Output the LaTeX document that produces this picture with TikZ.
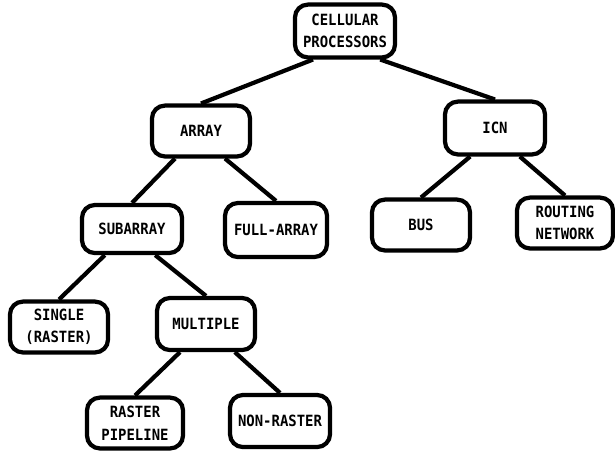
\documentclass[tikz,border=0pt]{standalone}
\usepackage{fontspec}
\newfontfamily\plotfont[FakeStretch=0.9]{DejaVu Sans Mono}
\usetikzlibrary{positioning}

\begin{document}
\begin{tikzpicture}[x=0.025cm, y=-0.025cm,
      b/.style={rounded corners=0.32cm, draw, line width=3pt, fill=white,
                minimum width=2.45cm, minimum height=1.27cm, align=center,
                inner sep=1pt, font=\plotfont\bfseries\fontsize{11}{16}\selectfont},
      l/.style={line width=3pt}]
    \useasboundingbox (0,0) rectangle (615,450);
    % boxes
    \node[b, minimum width=2.5cm, minimum height=1.32cm] (root) at (345,31) {CELLULAR\\PROCESSORS};
    \node[b] (arr)    at (201,131) {ARRAY};
    \node[b, minimum width=2.5cm, minimum height=1.32cm] (icn) at (495,128) {ICN};
    \node[b, minimum width=2.5cm, minimum height=1.2cm] (sub) at (132,229) {SUBARRAY};
    \node[b, minimum width=2.55cm, minimum height=1.35cm] (full) at (276,230) {FULL-ARRAY};
    \node[b] (bus)    at (421,225) {BUS};
    \node[b, minimum width=2.4cm] (rout) at (565,223) {ROUTING\\NETWORK};
    \node[b] (single) at (59,327)  {SINGLE\\(RASTER)};
    \node[b, minimum height=1.3cm] (mult) at (206,324) {MULTIPLE};
    \node[b, minimum width=2.4cm] (rpipe) at (135,423) {RASTER\\PIPELINE};
    \node[b, minimum width=2.5cm, minimum height=1.3cm] (nonr) at (280,421) {NON-RASTER};
    % tree lines
    \draw[l] ([xshift=-0.8cm]root.south) -- (arr.north);
    \draw[l] ([xshift=0.88cm]root.south) -- (icn.north);
    \draw[l] ([xshift=-0.65cm]arr.south) -- (sub.north);
    \draw[l] ([xshift=0.6cm]arr.south)  -- (full.north);
    \draw[l] ([xshift=-0.62cm]icn.south) -- (bus.north);
    \draw[l] ([xshift=0.62cm]icn.south)  -- (rout.north);
    \draw[l] ([xshift=-0.68cm]sub.south) -- (single.north);
    \draw[l] ([xshift=0.58cm]sub.south)  -- (mult.north);
    \draw[l] ([xshift=-0.65cm]mult.south) -- (rpipe.north);
    \draw[l] ([xshift=0.72cm]mult.south)  -- (nonr.north);
\end{tikzpicture}
\end{document}
